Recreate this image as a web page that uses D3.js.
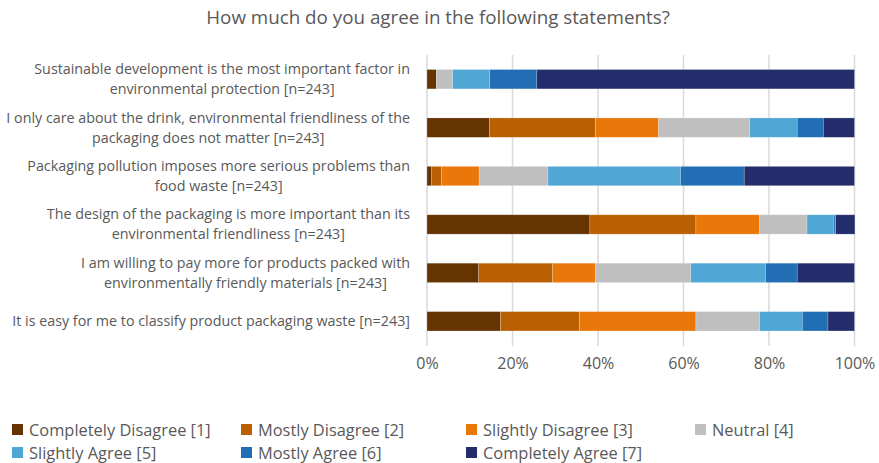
<!DOCTYPE html>
<html><head><meta charset="utf-8">
<script src="https://cdn.jsdelivr.net/npm/d3@7"></script>
<style>body{margin:0;background:#fff}svg{display:block}</style>
</head><body>
<svg id="c" width="879" height="463"></svg>
<script>
const title = "How much do you agree in the following statements?";
const categories = [
  ["Sustainable development is the most important factor in", "environmental protection [n=243]"],
  ["I only care about the drink, environmental friendliness of the", "packaging does not matter [n=243]"],
  ["Packaging pollution imposes more serious problems than", "food waste [n=243]"],
  ["The design of the packaging is more important than its", "environmental friendliness [n=243]"],
  ["I am willing to pay more for products packed with", "environmentally friendly materials [n=243]"],
  ["It is easy for me to classify product packaging waste [n=243]"]
];
const seriesNames = ["Completely Disagree [1]","Mostly Disagree [2]","Slightly Disagree [3]","Neutral [4]","Slightly Agree [5]","Mostly Agree [6]","Completely Agree [7]"];
const completelyDisagree = [2.2, 14.6, 1.1, 38.1, 12.1, 17.2];
const mostlyDisagree     = [0.0, 24.8, 2.3, 24.8, 17.3, 18.5];
const slightlyDisagree   = [0.0, 14.8, 8.8, 14.9, 10.0, 27.2];
const neutral            = [3.8, 21.3, 16.1, 11.1, 22.3, 14.9];
const slightlyAgree      = [8.7, 11.1, 31.0, 6.3, 17.5, 10.0];
const mostlyAgree        = [11.0, 6.1, 14.9, 0.4, 7.4, 6.0];
const completelyAgree    = [74.3, 7.3, 25.8, 4.5, 13.4, 6.2];
const xTicks = [0, 20, 40, 60, 80, 100];
const colors = ["#653400","#bb5f03","#ea770a","#bfbfbf","#50a6d5","#226eb4","#242d6c"];

const allSeries = [completelyDisagree, mostlyDisagree, slightlyDisagree, neutral, slightlyAgree, mostlyAgree, completelyAgree];
const rows = categories.map((c, i) => {
  const o = {idx: i};
  seriesNames.forEach((s, j) => o[s] = allSeries[j][i]);
  return o;
});

const svg = d3.select("#c");
const font = "'Open Sans', sans-serif";
const grey = "#595959";
const x = d3.scaleLinear().domain([0, 100]).range([427, 854.5]);
const y = d3.scaleBand().domain(d3.range(categories.length)).range([55, 345.5]).paddingInner(0.6).paddingOuter(0.3);

svg.append("text").attr("x", 438).attr("y", 24).attr("text-anchor", "middle")
  .attr("font-family", font).attr("font-size", 18.8).attr("fill", grey).text(title);

// gridlines
svg.append("g").selectAll("line").data(xTicks).join("line")
  .attr("x1", d => x(d)).attr("x2", d => x(d)).attr("y1", 55).attr("y2", 346)
  .attr("stroke", "#d9d9d9").attr("stroke-width", 1.5);

// x axis labels
const xAxis = svg.append("g").attr("transform", "translate(0,358)")
  .call(d3.axisBottom(x).tickValues(xTicks).tickFormat(d => d + "%").tickSize(0).tickPadding(0));
xAxis.select(".domain").remove();
xAxis.selectAll("text").attr("font-family", font).attr("font-size", 16).attr("fill", grey).attr("dy", "0.7em");

const stack = d3.stack().keys(seriesNames)(rows);
svg.append("g").selectAll("g").data(stack).join("g")
  .attr("fill", (d, i) => colors[i])
  .selectAll("rect").data(d => d).join("rect")
  .attr("x", d => x(d[0])).attr("width", d => Math.max(0, x(d[1]) - x(d[0])))
  .attr("y", d => y(d.data.idx)).attr("height", y.bandwidth())
  .attr("stroke", "#ffffff").attr("stroke-opacity", 0.35).attr("stroke-width", 0.6);

// y labels
const lab = svg.append("g");
categories.forEach((lines, i) => {
  const cy = y(i) + y.bandwidth() / 2;
  const g = lab.append("g");
  const lh = 20;
  const texts = lines.map((t, k) => g.append("text")
    .attr("font-family", font).attr("font-size", 14.3).attr("fill", grey)
    .attr("text-anchor", "middle")
    .attr("y", cy + (k - (lines.length - 1) / 2) * lh + 5).text(t));
  const maxW = d3.max(texts, t => t.node().getComputedTextLength());
  texts.forEach(t => t.attr("x", 410 - maxW / 2));
});

// legend
const legPos = [[12,430],[241,430],[466,430],[695,430],[12,453],[241,453],[466,453]];
const leg = svg.append("g");
seriesNames.forEach((s, i) => {
  const [lx, ly] = legPos[i];
  leg.append("rect").attr("x", lx).attr("y", ly - 6).attr("width", 11).attr("height", 11).attr("fill", colors[i]);
  leg.append("text").attr("x", lx + 17).attr("y", ly + 5.8).attr("font-family", font)
    .attr("font-size", 16.4).attr("fill", grey).text(s);
});
</script>
</body></html>
